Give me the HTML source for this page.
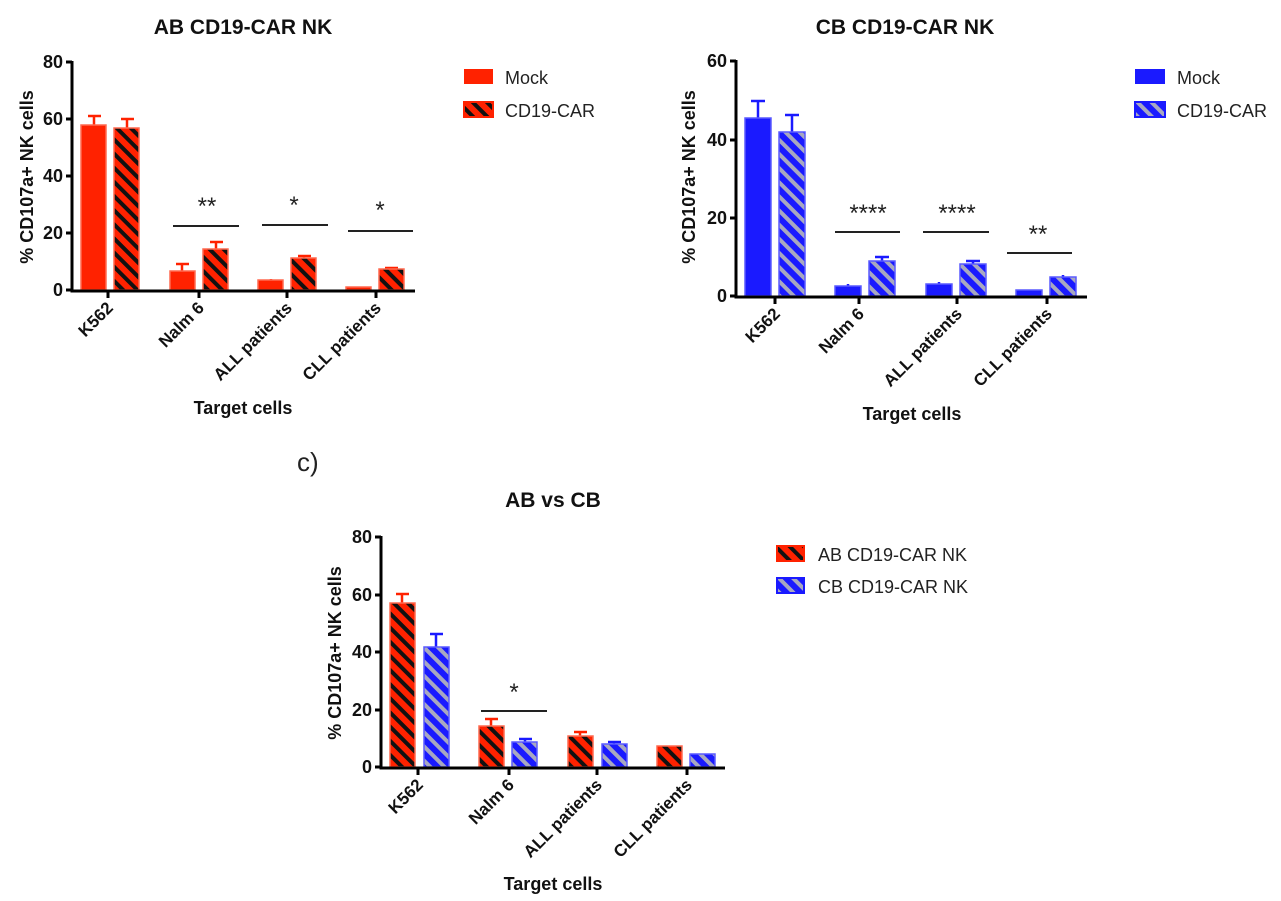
<!DOCTYPE html>
<html><head><meta charset="utf-8"><style>
html,body{margin:0;padding:0;background:#fff;}
svg{display:block;font-family:"Liberation Sans",sans-serif;}
.t{font-weight:bold;font-size:17px;fill:#111;}
.n{font-weight:bold;font-size:18px;fill:#111;}
.yl{font-weight:bold;font-size:18px;fill:#111;}
.ti{font-weight:bold;font-size:21px;fill:#111;}
.ax{stroke:#000;stroke-width:3;fill:none;}
.sig{stroke:#222;stroke-width:2;}
.st{font-size:24px;fill:#222;text-anchor:middle;}
.lg{font-size:18px;fill:#222;}
</style></head><body>
<svg width="1281" height="901" viewBox="0 0 1281 901">
<defs>
<pattern id="rh" width="10" height="10" patternUnits="userSpaceOnUse" patternTransform="rotate(-45)">
<rect width="10" height="10" fill="#ff2200"/><rect width="4" height="10" fill="#111"/></pattern>
<pattern id="bh" width="10" height="10" patternUnits="userSpaceOnUse" patternTransform="rotate(-45)">
<rect width="10" height="10" fill="#1a1aff"/><rect width="4" height="10" fill="#a8a8c0"/></pattern>
</defs>

<!-- ===== Chart A ===== -->
<text class="ti" x="243" y="34" text-anchor="middle">AB CD19-CAR NK</text>
<g stroke="#ff2200" stroke-width="2.5">
<line x1="94" y1="125" x2="94" y2="116"/><line x1="88" y1="116" x2="101" y2="116"/>
<line x1="127" y1="128" x2="127" y2="119"/><line x1="121" y1="119" x2="134" y2="119"/>
<line x1="182" y1="271" x2="182" y2="264"/><line x1="176" y1="264" x2="189" y2="264"/>
<line x1="216" y1="249" x2="216" y2="242"/><line x1="210" y1="242" x2="223" y2="242"/>
<line x1="271" y1="280" x2="271" y2="279"/>
<line x1="304" y1="258" x2="304" y2="256"/><line x1="298" y1="256" x2="311" y2="256"/>
<line x1="391" y1="269" x2="391" y2="268"/><line x1="385" y1="268" x2="398" y2="268"/>
</g>
<g stroke="#ff6a50" stroke-width="1.5">
<rect x="81" y="125" width="25" height="165" fill="#ff2200"/>
<rect x="114" y="128" width="25" height="162" fill="url(#rh)"/>
<rect x="170" y="271" width="25" height="19" fill="#ff2200"/>
<rect x="203" y="249" width="25" height="41" fill="url(#rh)"/>
<rect x="258" y="280" width="25" height="10" fill="#ff2200"/>
<rect x="291" y="258" width="25" height="32" fill="url(#rh)"/>
<rect x="346" y="287" width="25" height="3" fill="#ff2200"/>
<rect x="379" y="269" width="25" height="21" fill="url(#rh)"/>
</g>
<path class="ax" d="M72 61 V291 H415"/>
<g stroke="#000" stroke-width="3">
<line x1="66" y1="62" x2="72" y2="62"/><line x1="66" y1="119" x2="72" y2="119"/><line x1="66" y1="176" x2="72" y2="176"/><line x1="66" y1="233" x2="72" y2="233"/><line x1="66" y1="290" x2="72" y2="290"/>
<line x1="108" y1="291" x2="108" y2="298"/><line x1="199" y1="291" x2="199" y2="298"/><line x1="287" y1="291" x2="287" y2="298"/><line x1="376" y1="291" x2="376" y2="298"/>
</g>
<g class="n" text-anchor="end">
<text x="63" y="68">80</text><text x="63" y="125">60</text><text x="63" y="182">40</text><text x="63" y="239">20</text><text x="63" y="296">0</text>
</g>
<g class="t" text-anchor="end">
<text transform="translate(114,309) rotate(-45)">K562</text>
<text transform="translate(205,309) rotate(-45)">Nalm 6</text>
<text transform="translate(293,309) rotate(-45)">ALL patients</text>
<text transform="translate(382,309) rotate(-45)">CLL patients</text>
</g>
<text class="yl" transform="translate(33,177) rotate(-90)" text-anchor="middle">% CD107a+ NK cells</text>
<text class="yl" x="243" y="414" text-anchor="middle">Target cells</text>
<line class="sig" x1="173" y1="226" x2="239" y2="226"/><text class="st" x="207" y="214">**</text>
<line class="sig" x1="262" y1="225" x2="328" y2="225"/><text class="st" x="294" y="213">*</text>
<line class="sig" x1="348" y1="231" x2="413" y2="231"/><text class="st" x="380" y="218">*</text>
<rect x="464" y="69" width="29" height="15" fill="#ff2200"/>
<rect x="464" y="102" width="29" height="15" fill="url(#rh)" stroke="#ff2200" stroke-width="2"/>
<text class="lg" x="505" y="84">Mock</text>
<text class="lg" x="505" y="117">CD19-CAR</text>

<!-- ===== Chart B ===== -->
<text class="ti" x="905" y="34" text-anchor="middle">CB CD19-CAR NK</text>
<g stroke="#1a1aff" stroke-width="2.5">
<line x1="758" y1="118" x2="758" y2="101"/><line x1="751" y1="101" x2="765" y2="101"/>
<line x1="792" y1="132" x2="792" y2="115"/><line x1="785" y1="115" x2="799" y2="115"/>
<line x1="848" y1="286" x2="848" y2="284"/>
<line x1="882" y1="261" x2="882" y2="257"/><line x1="875" y1="257" x2="889" y2="257"/>
<line x1="939" y1="284" x2="939" y2="282"/>
<line x1="973" y1="264" x2="973" y2="261"/><line x1="966" y1="261" x2="980" y2="261"/>
<line x1="1063" y1="277" x2="1063" y2="275"/>
</g>
<g stroke="#5a5aff" stroke-width="1.5">
<rect x="745" y="118" width="26" height="178" fill="#1a1aff"/>
<rect x="779" y="132" width="26" height="164" fill="url(#bh)"/>
<rect x="835" y="286" width="26" height="10" fill="#1a1aff"/>
<rect x="869" y="261" width="26" height="35" fill="url(#bh)"/>
<rect x="926" y="284" width="26" height="12" fill="#1a1aff"/>
<rect x="960" y="264" width="26" height="32" fill="url(#bh)"/>
<rect x="1016" y="290" width="26" height="6" fill="#1a1aff"/>
<rect x="1050" y="277" width="26" height="19" fill="url(#bh)"/>
</g>
<path class="ax" d="M736 60 V297 H1087"/>
<g stroke="#000" stroke-width="3">
<line x1="730" y1="61" x2="736" y2="61"/><line x1="730" y1="140" x2="736" y2="140"/><line x1="730" y1="218" x2="736" y2="218"/><line x1="730" y1="296" x2="736" y2="296"/>
<line x1="775" y1="297" x2="775" y2="304"/><line x1="859" y1="297" x2="859" y2="304"/><line x1="957" y1="297" x2="957" y2="304"/><line x1="1047" y1="297" x2="1047" y2="304"/>
</g>
<g class="n" text-anchor="end">
<text x="727" y="67">60</text><text x="727" y="146">40</text><text x="727" y="224">20</text><text x="727" y="302">0</text>
</g>
<g class="t" text-anchor="end">
<text transform="translate(781,315) rotate(-45)">K562</text>
<text transform="translate(865,315) rotate(-45)">Nalm 6</text>
<text transform="translate(963,315) rotate(-45)">ALL patients</text>
<text transform="translate(1053,315) rotate(-45)">CLL patients</text>
</g>
<text class="yl" transform="translate(695,177) rotate(-90)" text-anchor="middle">% CD107a+ NK cells</text>
<text class="yl" x="912" y="420" text-anchor="middle">Target cells</text>
<line class="sig" x1="835" y1="232" x2="900" y2="232"/><text class="st" x="868" y="221">****</text>
<line class="sig" x1="923" y1="232" x2="989" y2="232"/><text class="st" x="957" y="221">****</text>
<line class="sig" x1="1007" y1="253" x2="1072" y2="253"/><text class="st" x="1038" y="242">**</text>
<rect x="1135" y="69" width="30" height="15" fill="#1a1aff"/>
<rect x="1135" y="102" width="30" height="15" fill="url(#bh)" stroke="#1a1aff" stroke-width="2"/>
<text class="lg" x="1177" y="84">Mock</text>
<text class="lg" x="1177" y="117">CD19-CAR</text>

<!-- c) -->
<text x="297" y="471" style="font-size:26px;fill:#222">c)</text>

<!-- ===== Chart C ===== -->
<text class="ti" x="553" y="507" text-anchor="middle">AB vs CB</text>
<g stroke-width="2.5">
<line stroke="#ff2200" x1="402" y1="603" x2="402" y2="594"/><line stroke="#ff2200" x1="396" y1="594" x2="409" y2="594"/>
<line stroke="#1a1aff" x1="436" y1="647" x2="436" y2="634"/><line stroke="#1a1aff" x1="430" y1="634" x2="443" y2="634"/>
<line stroke="#ff2200" x1="491" y1="726" x2="491" y2="719"/><line stroke="#ff2200" x1="485" y1="719" x2="498" y2="719"/>
<line stroke="#1a1aff" x1="525" y1="742" x2="525" y2="739"/><line stroke="#1a1aff" x1="519" y1="739" x2="532" y2="739"/>
<line stroke="#ff2200" x1="580" y1="736" x2="580" y2="732"/><line stroke="#ff2200" x1="574" y1="732" x2="587" y2="732"/>
<line stroke="#1a1aff" x1="614" y1="744" x2="614" y2="742"/><line stroke="#1a1aff" x1="608" y1="742" x2="621" y2="742"/>
</g>
<g stroke-width="1.5">
<rect stroke="#ff6a50" x="390" y="603" width="25" height="164" fill="url(#rh)"/>
<rect stroke="#5a5aff" x="424" y="647" width="25" height="120" fill="url(#bh)"/>
<rect stroke="#ff6a50" x="479" y="726" width="25" height="41" fill="url(#rh)"/>
<rect stroke="#5a5aff" x="512" y="742" width="25" height="25" fill="url(#bh)"/>
<rect stroke="#ff6a50" x="568" y="736" width="25" height="31" fill="url(#rh)"/>
<rect stroke="#5a5aff" x="602" y="744" width="25" height="23" fill="url(#bh)"/>
<rect stroke="#ff6a50" x="657" y="746" width="25" height="21" fill="url(#rh)"/>
<rect stroke="#5a5aff" x="690" y="754" width="25" height="13" fill="url(#bh)"/>
</g>
<path class="ax" d="M381 536 V768 H725"/>
<g stroke="#000" stroke-width="3">
<line x1="375" y1="537" x2="381" y2="537"/><line x1="375" y1="595" x2="381" y2="595"/><line x1="375" y1="652" x2="381" y2="652"/><line x1="375" y1="710" x2="381" y2="710"/><line x1="375" y1="767" x2="381" y2="767"/>
<line x1="418" y1="768" x2="418" y2="775"/><line x1="509" y1="768" x2="509" y2="775"/><line x1="597" y1="768" x2="597" y2="775"/><line x1="687" y1="768" x2="687" y2="775"/>
</g>
<g class="n" text-anchor="end">
<text x="372" y="543">80</text><text x="372" y="601">60</text><text x="372" y="658">40</text><text x="372" y="716">20</text><text x="372" y="773">0</text>
</g>
<g class="t" text-anchor="end">
<text transform="translate(424,786) rotate(-45)">K562</text>
<text transform="translate(515,786) rotate(-45)">Nalm 6</text>
<text transform="translate(603,786) rotate(-45)">ALL patients</text>
<text transform="translate(693,786) rotate(-45)">CLL patients</text>
</g>
<text class="yl" transform="translate(341,653) rotate(-90)" text-anchor="middle">% CD107a+ NK cells</text>
<text class="yl" x="553" y="890" text-anchor="middle">Target cells</text>
<line class="sig" x1="481" y1="711" x2="547" y2="711"/><text class="st" x="514" y="700">*</text>
<rect x="777" y="546" width="27" height="15" fill="url(#rh)" stroke="#ff2200" stroke-width="2"/>
<rect x="777" y="578" width="27" height="15" fill="url(#bh)" stroke="#1a1aff" stroke-width="2"/>
<text class="lg" x="818" y="561">AB CD19-CAR NK</text>
<text class="lg" x="818" y="593">CB CD19-CAR NK</text>
</svg>
</body></html>
